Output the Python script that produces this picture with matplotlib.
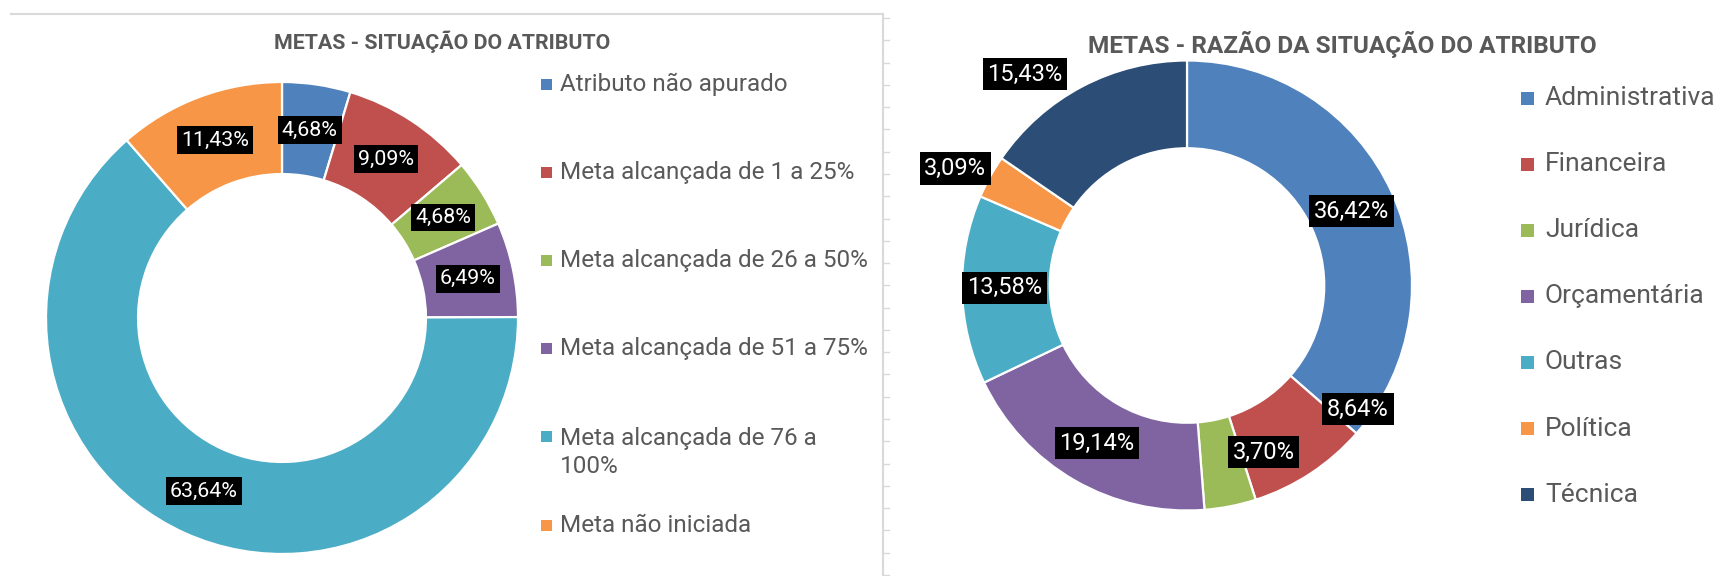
import matplotlib
matplotlib.use("Agg")
import matplotlib.pyplot as plt
from matplotlib.patches import Rectangle
import numpy as np

plt.rcParams["font.family"] = ["Roboto", "DejaVu Sans"]

W, H = 1724, 576
TEXT_GREY = "#595959"

situacao_title = "METAS - SITUAÇÃO DO ATRIBUTO"
situacao_labels = [
    "Atributo não apurado",
    "Meta alcançada de 1 a 25%",
    "Meta alcançada de 26 a 50%",
    "Meta alcançada de 51 a 75%",
    "Meta alcançada de 76 a\n100%",
    "Meta não iniciada",
]
situacao_values = [4.68, 9.09, 4.68, 6.49, 63.64, 11.43]
situacao_colors = ["#4F81BD", "#C0504D", "#9BBB59", "#8064A2", "#4BACC6", "#F79646"]

razao_title = "METAS - RAZÃO DA SITUAÇÃO DO ATRIBUTO"
razao_labels = ["Administrativa", "Financeira", "Jurídica", "Orçamentária",
                "Outras", "Política", "Técnica"]
razao_values = [36.42, 8.64, 3.70, 19.14, 13.58, 3.09, 15.43]
razao_colors = ["#4F81BD", "#C0504D", "#9BBB59", "#8064A2", "#4BACC6", "#F79646", "#2C4D75"]
# data labels of the right chart were dragged around in the original
razao_label_xy = [(0.73, 0.33), (0.76, -0.55), (0.34, -0.74), (-0.40, -0.70),
                  (-0.81, -0.01), (-1.03, 0.52), (-0.72, 0.94)]

HOLE = 0.61


def fmt(v: float) -> str:
    return f"{v:.2f}".replace(".", ",") + "%"


def px_axes(fig, cx, cy, r):
    return fig.add_axes([(cx - r) / W, (H - cy - r) / H, 2 * r / W, 2 * r / H])


def donut(ax, values, colors, fontsize, label_xy=None):
    _, texts = ax.pie(
        values,
        colors=colors,
        startangle=90,
        counterclock=False,
        labels=[fmt(v) for v in values],
        labeldistance=(1 + HOLE) / 2,
        wedgeprops=dict(width=1 - HOLE, edgecolor="white", linewidth=1.6),
        textprops=dict(color="white", fontsize=fontsize),
    )
    for i, t in enumerate(texts):
        t.set_ha("center")
        t.set_va("center")
        if label_xy is not None:
            t.set_position(label_xy[i])
        t.set_bbox(dict(boxstyle="square,pad=0.2", fc="black", ec="none"))
    ax.set_xlim(-1, 1)
    ax.set_ylim(-1, 1)
    ax.axis("off")


def legend(bg, labels, colors, x_box, box, x_text, y0, step, fontsize, line_h):
    y = y0
    for label, color in zip(labels, colors):
        n = label.count("\n")
        bg.add_patch(Rectangle((x_box, y - box / 2), box, box, fc=color, ec="none"))
        bg.text(x_text, y + n * line_h / 2, label, fontsize=fontsize, color=TEXT_GREY,
                ha="left", va="center", linespacing=1.3)
        y += step


fig = plt.figure(figsize=(W / 100, H / 100), dpi=100)

# background layer in pixel coordinates for frame lines, titles and legends
bg = fig.add_axes([0, 0, 1, 1])
bg.set_xlim(0, W)
bg.set_ylim(H, 0)
bg.axis("off")

bg.plot([11, 883], [14, 14], color="#D9D9D9", lw=1.5)
bg.plot([883, 883], [14, H], color="#D9D9D9", lw=1.5)
for ty in np.linspace(18, 575, 26):
    bg.plot([884, 889], [ty, ty], color="#D9D9D9", lw=1)

bg.text(442, 42, situacao_title, fontsize=15.4, fontweight="bold", color=TEXT_GREY,
        ha="center", va="center")
bg.text(1342, 44, razao_title, fontsize=17.6, fontweight="bold", color=TEXT_GREY,
        ha="center", va="center")

legend(bg, situacao_labels, situacao_colors, 541, 11, 560, 84, 88.2, 17.5, 31)
legend(bg, razao_labels, razao_colors, 1521, 13, 1545, 98, 66.1, 19, 0)

ax1 = px_axes(fig, 282, 318, 236)
donut(ax1, situacao_values, situacao_colors, 15.4)

ax2 = px_axes(fig, 1187, 285.5, 225)
donut(ax2, razao_values, razao_colors, 17, label_xy=razao_label_xy)

fig.savefig("out.png", dpi=100)
